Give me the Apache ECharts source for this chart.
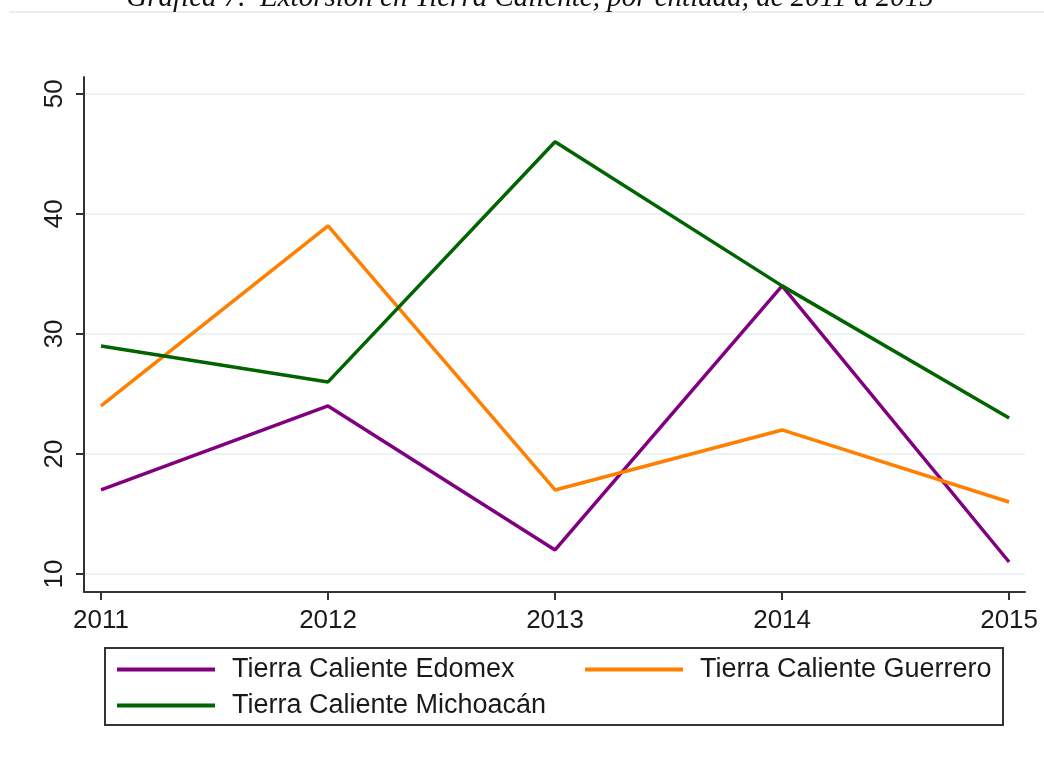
<!DOCTYPE html>
<html style="height: 100%">
<head>
<meta charset="utf-8">
<title>Extorsión en Tierra Caliente</title>
<style>
  html, body { margin: 0; padding: 0; background: #fff; }
  #chart { width: 1044px; height: 764px; }
</style>
</head>
<body>
<div id="chart"></div>
<script src="https://cdn.jsdelivr.net/npm/echarts@6/dist/echarts.min.js"></script>
<script type="text/javascript">
  // datos
  var years = [2011, 2012, 2013, 2014, 2015];
  var edomex = [17, 24, 12, 34, 11];
  var guerrero = [24, 39, 17, 22, 16];
  var michoacan = [29, 26, 46, 34, 23];
  var yTicks = [10, 20, 30, 40, 50];
  var names = ['Tierra Caliente Edomex', 'Tierra Caliente Guerrero', 'Tierra Caliente Michoacán'];
  var colors = ['#800080', '#ff7f00', '#006400'];

  function pairs(vals) {
    var out = [];
    for (var i = 0; i < years.length; i++) out.push([years[i], vals[i]]);
    return out;
  }

  var font = '"Liberation Sans", Arial, sans-serif';

  function legendAt(name, left, top) {
    return {
      data: [name],
      left: left,
      top: top,
      padding: 0,
      icon: 'rect',
      itemWidth: 98,
      itemHeight: 4,
      selectedMode: false,
      textStyle: { fontFamily: font, fontSize: 27, color: '#1a1a1a', padding: [0, 0, 0, 12] }
    };
  }

  var myChart = echarts.init(document.getElementById('chart'));
  var option = {
    animation: false,
    backgroundColor: '#fff',
    grid: { left: 84, top: 77, width: 941, height: 515 },
    xAxis: {
      type: 'value',
      min: 2010.925,
      max: 2015.07,
      axisLine: { lineStyle: { color: '#333', width: 2 } },
      axisTick: { customValues: years, length: 8, lineStyle: { color: '#333', width: 2 } },
      axisLabel: {
        customValues: years, margin: 16, fontFamily: font, fontSize: 26, color: '#1a1a1a',
        formatter: function (v) { return String(v); }
      },
      splitLine: { show: false }
    },
    yAxis: {
      type: 'value',
      min: 8.5,
      max: 51.4,
      axisLine: { show: true, lineStyle: { color: '#333', width: 2 } },
      axisTick: { show: true, customValues: yTicks, length: 8, lineStyle: { color: '#333', width: 2 } },
      axisLabel: { customValues: yTicks, rotate: 90, margin: 16, fontFamily: font, fontSize: 26, color: '#1a1a1a' },
      splitLine: { show: true, lineStyle: { color: '#e6eff1', width: 1.5 } }
    },
    legend: [
      legendAt(names[0], 117, 656),
      legendAt(names[1], 585, 656),
      legendAt(names[2], 117, 692)
    ],
    graphic: [
      { type: 'line', shape: { x1: 9, y1: 12, x2: 1044, y2: 12 }, style: { stroke: '#e8eef2', lineWidth: 2 } },
      {
        type: 'text', x: 530, y: 13,
        style: {
          text: 'Gráfica 7.  Extorsión en Tierra Caliente, por entidad, de 2011 a 2015',
          font: 'italic 29px "Liberation Serif", "Times New Roman", serif',
          fill: '#111', textAlign: 'center', textVerticalAlign: 'bottom'
        }
      },
      { type: 'rect', shape: { x: 105, y: 648, width: 898, height: 77 }, style: { fill: 'none', stroke: '#333', lineWidth: 2 } }
    ],
    series: [
      { name: names[0], type: 'line', data: pairs(edomex), showSymbol: false, lineStyle: { width: 3.5, color: colors[0] }, itemStyle: { color: colors[0] } },
      { name: names[1], type: 'line', data: pairs(guerrero), showSymbol: false, lineStyle: { width: 3.5, color: colors[1] }, itemStyle: { color: colors[1] } },
      { name: names[2], type: 'line', data: pairs(michoacan), showSymbol: false, lineStyle: { width: 3.5, color: colors[2] }, itemStyle: { color: colors[2] } }
    ]
  };
  myChart.setOption(option);
</script>
</body>
</html>
